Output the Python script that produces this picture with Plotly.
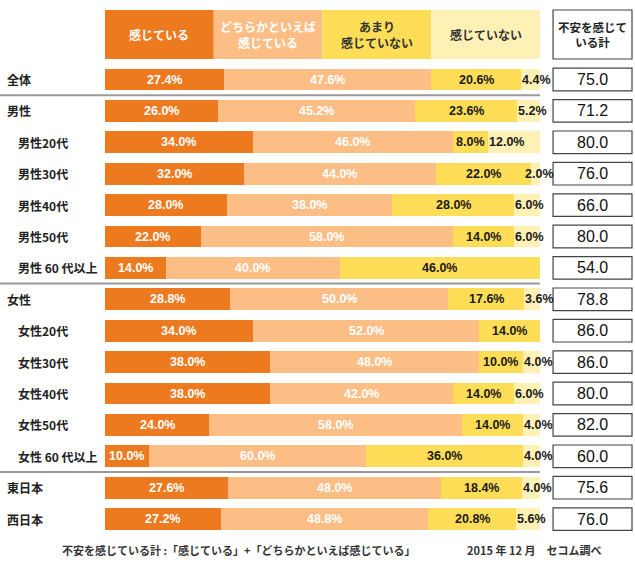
import plotly.graph_objects as go

categories = ["全体", "男性", "男性20代", "男性30代", "男性40代", "男性50代", "男性 60 代以上",
              "女性", "女性20代", "女性30代", "女性40代", "女性50代", "女性 60 代以上",
              "東日本", "西日本"]
indent = [0, 0, 1, 1, 1, 1, 1, 0, 1, 1, 1, 1, 1, 0, 0]

series_names = ["感じている", "どちらかといえば<br>感じている", "あまり<br>感じていない", "感じていない"]
feel = [27.4, 26.0, 34.0, 32.0, 28.0, 22.0, 14.0, 28.8, 34.0, 38.0, 38.0, 24.0, 10.0, 27.6, 27.2]
rather_feel = [47.6, 45.2, 46.0, 44.0, 38.0, 58.0, 40.0, 50.0, 52.0, 48.0, 42.0, 58.0, 50.0, 48.0, 48.8]
not_much = [20.6, 23.6, 8.0, 22.0, 28.0, 14.0, 46.0, 17.6, 14.0, 10.0, 14.0, 14.0, 36.0, 18.4, 20.8]
not_feel = [4.4, 5.2, 12.0, 2.0, 6.0, 6.0, 0.0, 3.6, 0.0, 4.0, 6.0, 4.0, 4.0, 4.0, 5.6]
totals = [75.0, 71.2, 80.0, 76.0, 66.0, 80.0, 54.0, 78.8, 86.0, 86.0, 80.0, 82.0, 60.0, 75.6, 76.0]
# label printed in the source differs from the drawn bar (女性60代以上, 2nd segment)
label_override = {(12, 1): "60.0%"}

colors = ["#EE7A1F", "#FDBE86", "#FFDD57", "#FFF0B6"]
text_colors = ["white", "white", "#1a1a1a", "#1a1a1a"]
header_text_colors = ["white", "white", "#333333", "#333333"]

series = [feel, rather_feel, not_much, not_feel]
ypos = list(range(len(categories)))

# each bar is drawn normalised to the full width
norm = [[] for _ in series]
for i in ypos:
    tot = sum(s[i] for s in series)
    for k, s in enumerate(series):
        norm[k].append(s[i] / tot * 100)

fig = go.Figure()
for k, s in enumerate(norm):
    fig.add_trace(go.Bar(x=s, y=ypos, orientation="h", marker=dict(color=colors[k], line=dict(width=0)),
                         width=0.7, showlegend=False, hoverinfo="skip"))

FONT = "Liberation Sans, Arial, sans-serif"
JFONT = "Noto Sans CJK JP, sans-serif"
ann = []
shapes = []

# segment labels
for i in ypos:
    cum = 0
    for k in range(4):
        v = norm[k][i]
        if series[k][i] > 0:
            txt = label_override.get((i, k), f"{series[k][i]:.1f}%")
            if k == 3:
                xa, anchor = min(cum, 96.4), "left"
            else:
                xa, anchor = cum + v / 2, "center"
            ann.append(dict(x=xa, y=i, text=txt, showarrow=False, xref="x", yref="y", xanchor=anchor,
                            borderpad=0,
                            font=dict(family=FONT, size=12.5, color=text_colors[k], weight=600)))
        cum += v

# category labels
for i, c in enumerate(categories):
    ann.append(dict(x=-24.14 + (5 if indent[i] == 0 else 16) / 4.35, y=i, text=f"<b>{c}</b>", showarrow=False,
                    xanchor="left", xref="x", yref="y", font=dict(family=JFONT, size=12, color="#222222")))

# header boxes
h0, h1 = -2.213, -0.653
for k in range(4):
    shapes.append(dict(type="rect", xref="x", yref="y", x0=25 * k, x1=25 * (k + 1), y0=h0, y1=h1,
                       fillcolor=colors[k], line=dict(width=0), layer="below"))
    ann.append(dict(x=25 * k + 12.5, y=(h0 + h1) / 2, text=f"<b>{series_names[k]}</b>", showarrow=False,
                    xref="x", yref="y", font=dict(family=JFONT, size=12, color=header_text_colors[k])))

# totals column
bx0, bx1 = 103.0, 121.15
shapes.append(dict(type="rect", xref="x", yref="y", x0=bx0, x1=bx1, y0=h0, y1=h1,
                   fillcolor="white", line=dict(color="#444444", width=1.2)))
ann.append(dict(x=(bx0 + bx1) / 2, y=(h0 + h1) / 2, text="<b>不安を感じて<br>いる計</b>", showarrow=False,
                xref="x", yref="y", font=dict(family=JFONT, size=11.5, color="#222222")))
for i, t in enumerate(totals):
    shapes.append(dict(type="rect", xref="x", yref="y", x0=bx0, x1=bx1, y0=i - 0.36, y1=i + 0.36,
                       fillcolor="white", line=dict(color="#444444", width=1.2)))
    ann.append(dict(x=(bx0 + bx1) / 2, y=i, text=f"{t:.1f}", showarrow=False, xref="x", yref="y",
                    font=dict(family=FONT, size=16, color="#111111")))

# separators
for yv in [0.5, 6.5, 12.5]:
    shapes.append(dict(type="line", xref="x", yref="y", x0=-24.14, x1=100, y0=yv, y1=yv,
                       line=dict(color="#9a9a9a", width=2)))

# footer
ann.append(dict(x=(60 - 105) / 4.35, y=14.98, text="<b>不安を感じている計 :「感じている」+「どちらかといえば感じている」</b>",
                showarrow=False, xanchor="left", xref="x", yref="y",
                font=dict(family=JFONT, size=11, color="#333333")))
ann.append(dict(x=(465 - 105) / 4.35, y=14.98, text="<b>2015 年 12 月　セコム調べ</b>",
                showarrow=False, xanchor="left", xref="x", yref="y",
                font=dict(family=JFONT, size=11, color="#333333")))

fig.update_layout(
    width=635, height=564, margin=dict(l=0, r=0, t=0, b=0),
    barmode="stack", bargap=0, plot_bgcolor="white", paper_bgcolor="white",
    xaxis=dict(range=[-24.14, 121.84], visible=False, fixedrange=True),
    yaxis=dict(range=[15.43, -2.532], visible=False, fixedrange=True),
    annotations=ann, shapes=shapes,
)
fig.write_html("out.html", config={"displayModeBar": False, "staticPlot": True},
               post_script="document.body.style.margin='0';document.body.style.overflow='hidden';")
